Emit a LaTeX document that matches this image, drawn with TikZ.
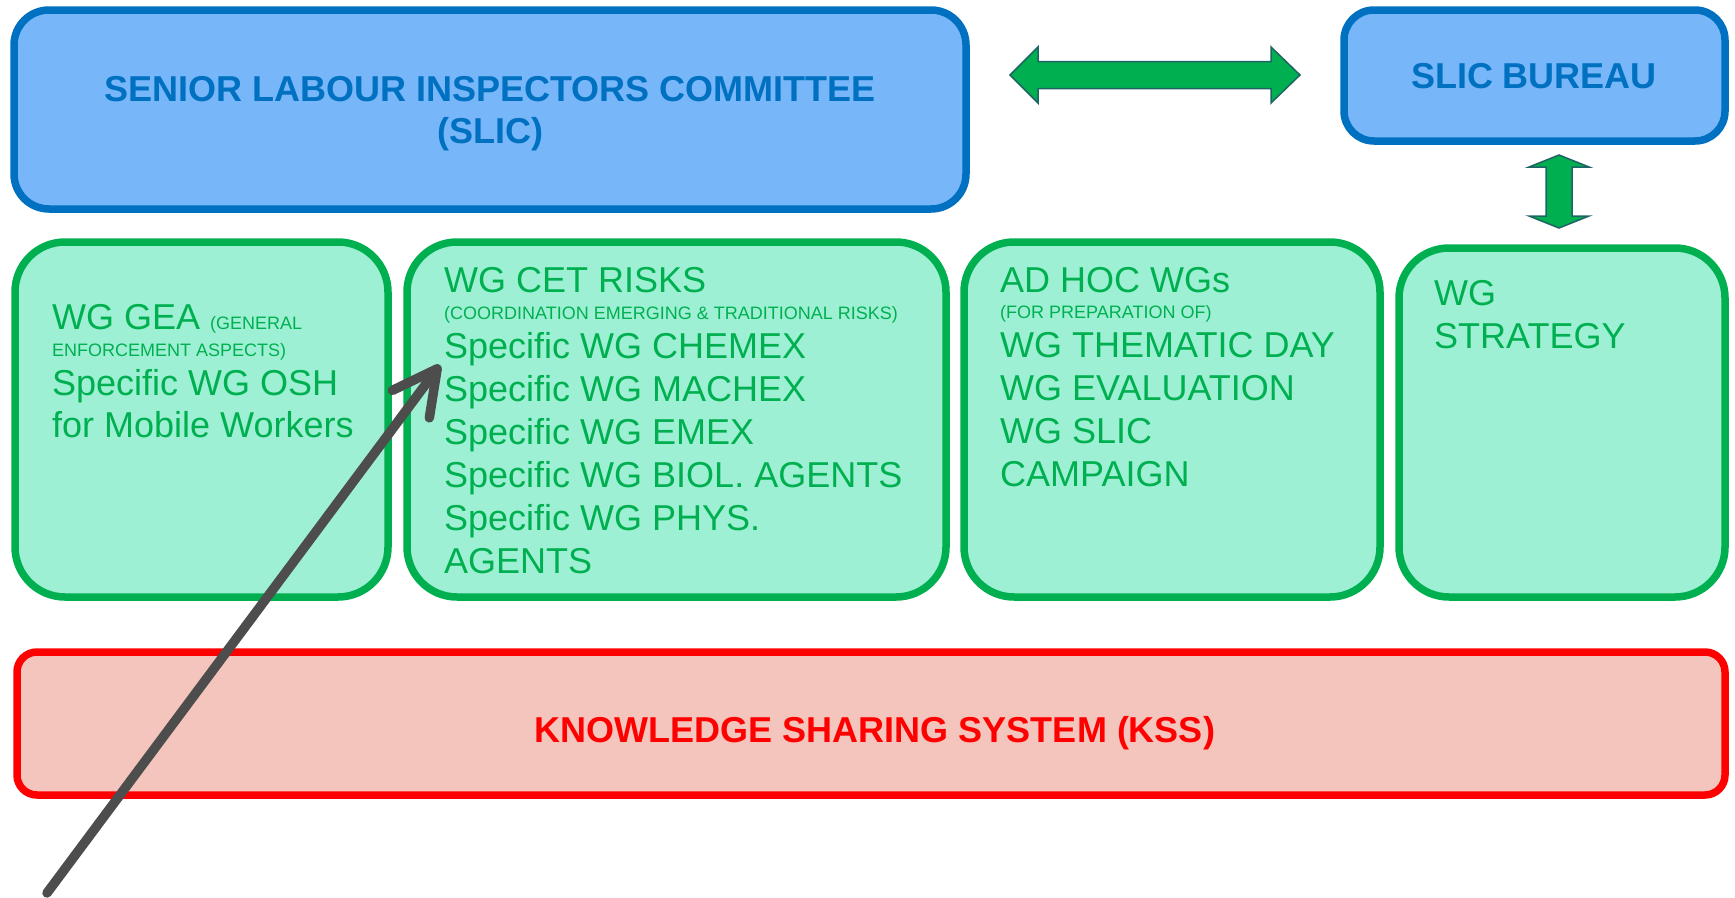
\documentclass[tikz,border=0pt]{standalone}
\usepackage{fontspec}
\setmainfont{Liberation Sans}
\usetikzlibrary{arrows.meta}
\definecolor{slicblue}{HTML}{0070C0}
\definecolor{slicfill}{HTML}{78B6FA}
\definecolor{wggreen}{HTML}{00B050}
\definecolor{wgfill}{HTML}{9EF0D4}
\definecolor{kssred}{HTML}{FF0000}
\definecolor{kssfill}{HTML}{F4C5BC}
\definecolor{arrowedge}{HTML}{1F6464}
\definecolor{pointergrey}{HTML}{4D4D4D}
\tikzstyle{slicbox}=[rectangle,draw=slicblue,fill=slicfill,line width=7.5pt,inner sep=0pt]
\tikzstyle{wgbox}=[rectangle,draw=wggreen,fill=wgfill,line width=7.5pt,rounded corners=50pt,inner sep=0pt]
\tikzstyle{kssbox}=[rectangle,draw=kssred,fill=kssfill,line width=7.5pt,rounded corners=20pt,inner sep=0pt]
\tikzstyle{headtxt}=[font=\fontsize{36}{42}\selectfont\bfseries,text=slicblue,anchor=base,inner sep=0pt]
\tikzstyle{wgline}=[font=\fontsize{36}{43}\selectfont,text=wggreen,anchor=base west,inner sep=0pt]
\tikzstyle{wgnote}=[font=\fontsize{18}{22}\selectfont,text=wggreen,anchor=base west,inner sep=0pt]
\tikzstyle{blockarrow}=[draw=arrowedge,fill=wggreen,line width=1.5pt]
\tikzstyle{pointer}=[draw=pointergrey,line width=9.5pt,line cap=round,-{Straight Barb[length=44pt,width=46pt,round]}]

\begin{document}
\begin{tikzpicture}[x=1pt,y=-1pt]
    \useasboundingbox (0,0) rectangle (1735,897);
    % Committee and bureau on top
    \node[slicbox,rounded corners=35pt,minimum width=952pt,minimum height=199pt] (slic) at (490,109.5) {};
    \node[headtxt] (slic1) at (490,101) {SENIOR LABOUR INSPECTORS COMMITTEE};
    \node[headtxt] (slic2) at (490,143) {(SLIC)};
    \node[slicbox,rounded corners=30pt,minimum width=381pt,minimum height=131pt] (bureau) at (1534.5,75.5) {};
    \node[headtxt] (bureau1) at (1534,88) {SLIC BUREAU};
    % Working groups
    \node[wgbox,minimum width=373pt,minimum height=355pt] (gea) at (201.5,419.5) {};
    \node[wgbox,minimum width=539pt,minimum height=355pt] (cet) at (676.5,419.5) {};
    \node[wgbox,minimum width=416pt,minimum height=355pt] (adhoc) at (1172,419.5) {};
    \node[wgbox,minimum width=326pt,minimum height=349pt] (strategy) at (1562,422.5) {};
    \node[wgline] (gea1) at (52,329) {WG GEA {\fontsize{18}{22}\selectfont(GENERAL}};
    \node[wgnote] (gea2) at (52,356) {ENFORCEMENT ASPECTS)};
    \node[wgline] (gea3) at (52,395) {Specific WG OSH};
    \node[wgline] (gea4) at (52,437) {for Mobile Workers};
    \node[wgline] (cet0) at (444,292) {WG CET RISKS};
    \node[wgnote] (cetnote) at (444,319) {(COORDINATION EMERGING \& TRADITIONAL RISKS)};
    \foreach \txt [count=\i] in {Specific WG CHEMEX, Specific WG MACHEX, Specific WG EMEX, Specific WG BIOL. AGENTS, Specific WG PHYS., AGENTS}
        \node[wgline] (cet\i) at (444,{358+43*(\i-1)}) {\txt};
    \node[wgline] (adhoc0) at (1000,292) {AD HOC WGs};
    \node[wgnote] (adhocnote) at (1000,318) {(FOR PREPARATION OF)};
    \foreach \txt [count=\i] in {WG THEMATIC DAY, WG EVALUATION, WG SLIC, CAMPAIGN}
        \node[wgline] (adhoc\i) at (1000,{357+43*(\i-1)}) {\txt};
    \node[wgline] (strategy1) at (1434,305) {WG};
    \node[wgline] (strategy2) at (1434,348) {STRATEGY};
    % Knowledge sharing system
    \node[kssbox,minimum width=1708pt,minimum height=143pt] (kss) at (871,723.5) {};
    \node[headtxt,text=kssred] (kss1) at (875,742) {KNOWLEDGE SHARING SYSTEM (KSS)};
    % Block arrows
    \coordinate (hmid) at (1155,75);
    \draw[blockarrow,shift={(hmid)}] (-145,0) -- (-117,-28) -- (-117,-13.5) -- (116,-13.5) -- (116,-28) -- (145,0) -- (116,28) -- (116,13.5) -- (-117,13.5) -- (-117,28) -- cycle;
    \coordinate (vmid) at (1559,191.5);
    \draw[blockarrow,shift={(vmid)}] (0,-36.5) -- (30,-24.5) -- (13,-24.5) -- (13,24.5) -- (30,24.5) -- (0,36.5) -- (-30,24.5) -- (-13,24.5) -- (-13,-24.5) -- (-30,-24.5) -- cycle;
    % Pointer
    \coordinate (from) at (47,893);
    \coordinate (tip) at (440,365);
    \path[pointer] (from) -- (tip);
\end{tikzpicture}
\end{document}
